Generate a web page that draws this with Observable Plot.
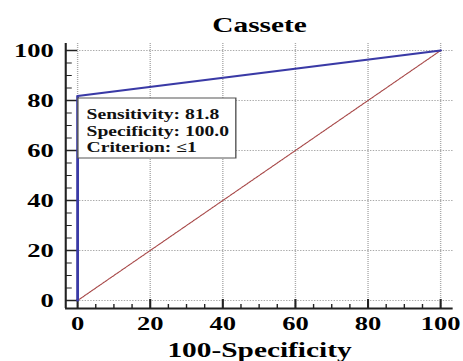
<!DOCTYPE html>
<html>
<head>
<meta charset="utf-8">
<script src="https://cdn.jsdelivr.net/npm/d3@7"></script>
<script src="https://cdn.jsdelivr.net/npm/@observablehq/plot@0.6"></script>
<style>
  html, body { margin: 0; padding: 0; background: #fff; overflow: hidden; }
  #chart { width: 463px; height: 361px; overflow: hidden; }
  #chart svg { transform-origin: 0 0; display: block; }
</style>
</head>
<body>
<div id="chart"></div>
<script>
// ---- data ----
const title = "Cassete";
const xLabel = "100-Specificity";
const rocX = [0, 0, 100];
const rocY = [0, 81.8, 100];
const diagX = [0, 100];
const diagY = [0, 100];
const xTicks = [0, 20, 40, 60, 80, 100];
const yTicks = [0, 20, 40, 60, 80, 100];
const sensitivity = 81.8;
const specificity = 100.0;
const criterion = "≤1";

// ---- layout ----
const stretch = 1.4;              // reference is horizontally stretched
const W = Math.round(463 / stretch);
const H = 361;
const xDomain = [-3.27, 103.5];
const yDomain = [-3.2, 102.8];
const xMinor = d3.range(0, 100.01, 5).filter(v => v % 20 !== 0);
const yMinor = d3.range(0, 100.01, 5).filter(v => v % 20 !== 0);

const roc = rocX.map((x, i) => ({x, y: rocY[i]}));
const diag = diagX.map((x, i) => ({x, y: diagY[i]}));
const op = [{x: 100 - specificity, y: sensitivity}];
const boxText = `Sensitivity: ${sensitivity.toFixed(1)}\nSpecificity: ${specificity.toFixed(1)}\nCriterion: ${criterion}`;

const font = "Liberation Serif, Times New Roman, serif";

const chart = Plot.plot({
  width: W,
  height: H,
  marginLeft: 46.5,
  marginRight: W - 323.6,
  marginTop: 43,
  marginBottom: 53,
  x: {domain: xDomain},
  y: {domain: yDomain},
  marks: [
    Plot.gridX(xTicks, {stroke: "#aaa", strokeOpacity: 1, strokeDasharray: "1,1", strokeWidth: 1}),
    Plot.gridY(yTicks, {stroke: "#aaa", strokeOpacity: 1, strokeDasharray: "1,1", strokeWidth: 1}),
    // axis lines
    Plot.ruleX([xDomain[0]], {stroke: "#222", strokeWidth: 1.5}),
    Plot.ruleY([yDomain[0]], {stroke: "#222", strokeWidth: 1.8}),
    // inward ticks
    Plot.axisY({ticks: yTicks, tickSize: -8.6, tickFormat: () => "", stroke: "#222", strokeWidth: 1.5, label: null}),
    Plot.axisY({ticks: yMinor, tickSize: -4.8, tickFormat: () => "", stroke: "#222", strokeWidth: 1, label: null}),
    Plot.axisX({ticks: xTicks, tickSize: -9, tickFormat: () => "", stroke: "#222", strokeWidth: 1.5, label: null}),
    Plot.axisX({ticks: xMinor, tickSize: -4, tickFormat: () => "", stroke: "#222", strokeWidth: 1, label: null}),
    // tick labels
    Plot.axisY({ticks: yTicks, tickSize: 0, tickPadding: 8.5, label: null, fontFamily: font, fontWeight: "bold", fontSize: 19, fill: "#000"}),
    Plot.axisX({ticks: xTicks, tickSize: 0, tickPadding: 8.5, label: null, fontFamily: font, fontWeight: "bold", fontSize: 19, fill: "#000"}),
    // diagonal
    Plot.line(diag, {x: "x", y: "y", stroke: "#a84a4a", strokeWidth: 1, strokeDasharray: "1.5,0.8"}),
    // ROC curve
    Plot.line(roc, {x: "x", y: "y", stroke: "#3a3aa6", strokeWidth: 2}),
    // annotation box anchored at operating point
    Plot.rect(op, {x1: "x", x2: "x", y1: "y", y2: "y", fill: "#fff", stroke: "#555", strokeWidth: 1,
      insetLeft: 0.7, insetRight: -113.6, insetTop: 2.5, insetBottom: -62.5}),
    Plot.text(op, {x: "x", y: "y", text: () => boxText, textAnchor: "start", lineAnchor: "top",
      dx: 6.4, dy: 11.6, lineHeight: 1.18, fontFamily: font, fontWeight: "bold", fontSize: 14, fill: "#111"}),
    // title and axis label
    Plot.text([title], {frameAnchor: "top", dy: -18, lineAnchor: "middle", fontFamily: font, fontWeight: "bold", fontSize: 21, fill: "#000"}),
    Plot.text([xLabel], {frameAnchor: "bottom", dy: 41.5, lineAnchor: "middle", fontFamily: font, fontWeight: "bold", fontSize: 21, fill: "#000"})
  ]
});
chart.style.transform = `scaleX(${463 / W})`;
chart.style.overflow = "visible";
chart.style.maxWidth = "none";
document.getElementById("chart").appendChild(chart);
</script>
</body>
</html>
